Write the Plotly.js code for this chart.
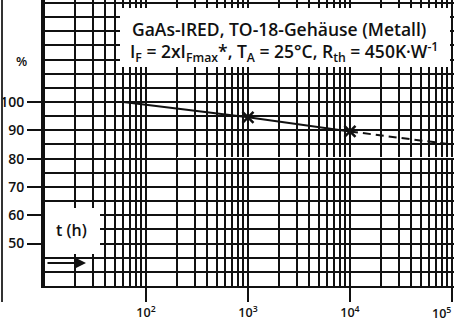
<!DOCTYPE html>
<html>
<head>
<meta charset="utf-8">
<script src="https://cdn.plot.ly/plotly-3.0.1.min.js"></script>
<style>html,body{margin:0;padding:0;background:#fff;}#chart{width:454px;height:322px;}</style>
</head>
<body>
<div id="chart"></div>
<script>
// Data
const solidTime = [60, 1000, 10000];
const solidValue = [100, 94.6, 89.6];
const dashTime = [10000, 100000];
const dashValue = [89.6, 85.0];
const markerTime = [1000, 10000];
const markerValue = [94.6, 89.6];

const xTickVals = [100, 1000, 10000, 100000];
const xTickText = ['10<sup>2</sup>', '10<sup>3</sup>', '10<sup>4</sup>', ''];
const xLastTickText = '10<sup>5</sup>';   // drawn against the right edge, as in the reference
const yTickVals = [50, 60, 70, 80, 90, 100];
const yTickText = ['50', '60', '70', '80', '90', '100'];

const decades = [10, 100, 1000, 10000];
const mantissas = [1, 2, 3, 4, 5, 6, 7, 8, 9];
const xGridVals = [];
decades.forEach(d => mantissas.forEach(m => xGridVals.push(m * d)));
xGridVals.push(100000);
const yGridVals = [];
for (let v = 35; v <= 135; v += 5) yGridVals.push(v);

const titleLine1 = 'GaAs-IRED, TO-18-Gehäuse (Metall)';
const titleLine2 = 'I<sub>F</sub> = 2xI<sub>Fmax</sub>*, T<sub>A</sub> = 25°C, R<sub>th</sub> = 450K·W<sup>-1</sup>';

const FONT = 'Open Sans, Liberation Sans, sans-serif';
const INK = '#111';

const W = 454, H = 322, L = 43, B = 36;
const pw = W - L, ph = H - B;
const px = x => (x - L) / pw;       // pixel -> paper x
const py = y => 1 - y / ph;         // pixel -> paper y

const traces = [
  {x: solidTime, y: solidValue, type: 'scatter', mode: 'lines',
   line: {color: INK, width: 2}, hoverinfo: 'skip'},
  {x: dashTime, y: dashValue, type: 'scatter', mode: 'lines',
   line: {color: INK, width: 2, dash: '8px,5px'}, hoverinfo: 'skip'},
  {x: markerTime, y: markerValue, type: 'scatter', mode: 'markers',
   marker: {symbol: 'x-thin', size: 11, line: {color: INK, width: 2.5}, color: INK}, hoverinfo: 'skip'}
];

const layout = {
  width: W, height: H,
  margin: {l: L, r: 0, t: 0, b: B, pad: 0},
  paper_bgcolor: '#fff', plot_bgcolor: '#fff',
  showlegend: false,
  font: {family: FONT, color: INK},
  xaxis: {
    type: 'log', range: [0.99, 5.02],
    tickmode: 'array', tickvals: xTickVals, ticktext: xTickText,
    ticks: 'outside', ticklen: 14, tickwidth: 2, tickcolor: INK,
    tickfont: {size: 12.5, family: FONT, color: INK, weight: 600},
    showgrid: true, gridcolor: INK, gridwidth: 2,
    minor: {tickmode: 'array', tickvals: xGridVals, showgrid: true, gridcolor: INK, gridwidth: 2, ticks: ''},
    showline: true, linecolor: INK, linewidth: 2,
    zeroline: false, fixedrange: true
  },
  yaxis: {
    range: [35, 136.05],
    tickmode: 'array', tickvals: yTickVals, ticktext: yTickText,
    ticks: 'outside', ticklen: 14, tickwidth: 2, tickcolor: INK,
    tickfont: {size: 14, family: FONT, color: INK, weight: 600},
    showgrid: true, gridcolor: INK, gridwidth: 2,
    minor: {tickmode: 'array', tickvals: yGridVals, showgrid: true, gridcolor: INK, gridwidth: 2, ticks: ''},
    showline: true, linecolor: INK, linewidth: 2,
    zeroline: false, fixedrange: true
  },
  shapes: [
    // white label box in upper right
    {type: 'rect', xref: 'paper', yref: 'paper', x0: px(120), x1: px(450), y0: py(67), y1: py(8),
     fillcolor: '#fff', line: {width: 0}, layer: 'above'},
    // white box behind t (h)
    {type: 'rect', xref: 'paper', yref: 'paper', x0: px(45), x1: px(100), y0: py(254), y1: py(208),
     fillcolor: '#fff', line: {width: 0}, layer: 'above'},
    // white scratch on the 80 line
    {type: 'line', xref: 'paper', yref: 'paper', x0: px(177), x1: 1, y0: py(157.5), y1: py(157.5),
     line: {color: '#fff', width: 1}, layer: 'above'},
    // scan border at far left
    {type: 'line', xref: 'paper', yref: 'paper', x0: px(2), x1: px(2), y0: 1, y1: py(302),
     line: {color: '#333', width: 2}}
  ],
  annotations: [
    {xref: 'paper', yref: 'paper', x: px(130), y: py(29), xanchor: 'left', yanchor: 'middle',
     text: titleLine1, showarrow: false, font: {size: 17.5, family: FONT, color: INK, weight: 600}},
    {xref: 'paper', yref: 'paper', x: px(128), y: py(52), xanchor: 'left', yanchor: 'middle',
     text: titleLine2, showarrow: false, font: {size: 17.5, family: FONT, color: INK, weight: 600}},
    {xref: 'paper', yref: 'paper', x: px(71), y: py(230), xanchor: 'center', yanchor: 'middle',
     text: 't (h)', showarrow: false, font: {size: 16, family: FONT, color: INK, weight: 600}},
    {xref: 'paper', yref: 'paper', x: px(21), y: py(61), xanchor: 'center', yanchor: 'middle',
     text: '%', showarrow: false, font: {size: 13, family: FONT, color: INK, weight: 600}},
    {xref: 'paper', yref: 'paper', x: px(453), y: py(313), xanchor: 'right', yanchor: 'middle',
     text: xLastTickText, showarrow: false, font: {size: 12.5, family: FONT, color: INK, weight: 600}},
    {xref: 'paper', yref: 'paper', x: px(86), y: py(263), axref: 'pixel', ayref: 'pixel', ax: -40, ay: 0,
     text: '', showarrow: true, arrowhead: 2, arrowsize: 1.1, arrowwidth: 2, arrowcolor: INK}
  ]
};

Plotly.newPlot('chart', traces, layout, {staticPlot: true, displayModeBar: false});
</script>
</body>
</html>
